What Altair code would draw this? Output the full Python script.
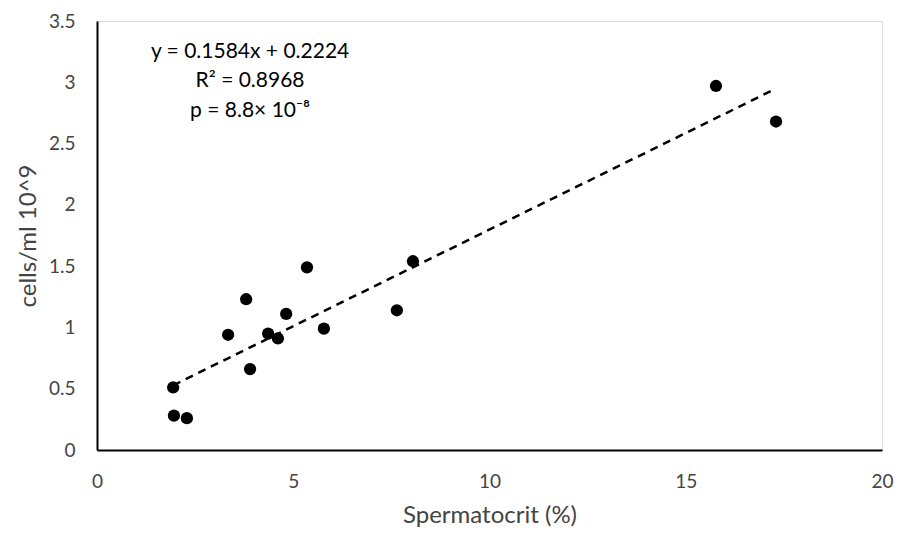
import altair as alt
import pandas as pd

spermatocrit = [1.94, 1.96, 2.29, 3.34, 3.80, 3.90, 4.36, 4.61, 4.82, 5.35, 5.78, 7.64, 8.05, 15.77, 17.30]
cells = [0.51, 0.28, 0.26, 0.94, 1.23, 0.66, 0.95, 0.91, 1.11, 1.49, 0.99, 1.14, 1.54, 2.97, 2.68]
annotation_lines = ["y = 0.1584x + 0.2224", "R² = 0.8968", "p = 8.8× 10⁻⁸"]
annotation_x = [3.9, 3.9, 3.9]
annotation_y = [3.246, 3.01, 2.765]

df = pd.DataFrame({"x": spermatocrit, "y": cells})
ann = pd.DataFrame({"text": annotation_lines, "x": annotation_x, "y": annotation_y})

FONT = "Lato"
GREY = "#444444"

xscale = alt.Scale(domain=[0, 20], nice=False, zero=True)
yscale = alt.Scale(domain=[0, 3.5], nice=False, zero=True)

xaxis = alt.Axis(values=[0, 5, 10, 15, 20], title="Spermatocrit (%)", grid=False, ticks=False,
                 domainColor="black", domainWidth=2, labelColor=GREY, labelFontSize=19,
                 labelFont=FONT, labelPadding=22, labelFlush=False, format="~g",
                 titleFont=FONT, titleFontSize=24,
                 titleFontWeight="normal", titleColor=GREY, titlePadding=12)
yaxis = alt.Axis(values=[0, 0.5, 1, 1.5, 2, 2.5, 3, 3.5], title="cells/ml 10^9", grid=False, ticks=False,
                 domainColor="black", domainWidth=2, labelColor=GREY, labelFontSize=19,
                 labelFont=FONT, labelPadding=22, labelFlush=False, format="~g",
                 titleFont=FONT, titleFontSize=24,
                 titleFontWeight="normal", titleColor=GREY, titlePadding=8)

points = alt.Chart(df).mark_circle(size=150, color="black", opacity=1).encode(
    x=alt.X("x:Q", scale=xscale, axis=xaxis),
    y=alt.Y("y:Q", scale=yscale, axis=yaxis),
)

trend = alt.Chart(df).transform_regression("x", "y").mark_line(
    color="black", strokeWidth=2.5, strokeDash=[8, 6]
).encode(
    x=alt.X("x:Q", scale=xscale),
    y=alt.Y("y:Q", scale=yscale),
)

text = alt.Chart(ann).mark_text(font=FONT, fontSize=21, color="black", align="center", baseline="middle").encode(
    x=alt.X("x:Q", scale=xscale),
    y=alt.Y("y:Q", scale=yscale),
    text="text:N",
)

chart = alt.layer(trend, points, text).properties(
    width=785, height=429,
    autosize=alt.AutoSizeParams(type="none"),
    padding={"left": 89, "top": 13, "right": 12, "bottom": 81},
).configure_view(stroke=None).configure(background="white")

chart.save("out.html", embed_options={"renderer": "svg", "actions": False})
